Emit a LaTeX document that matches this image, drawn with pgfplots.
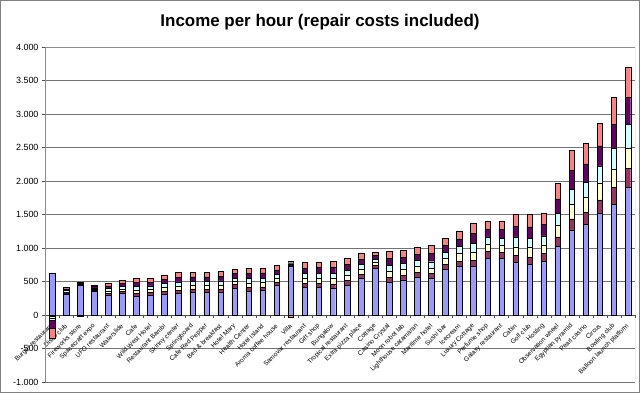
\documentclass[border=0pt]{standalone}
\usepackage{pgfplots}
\pgfplotsset{compat=1.18}
\usepackage{pgfplotstable}
\usepackage{fontspec}
\setmainfont{Liberation Sans}
\definecolor{sB}{HTML}{9999FF}
\definecolor{sM}{HTML}{993366}
\definecolor{sY}{HTML}{FFFFCC}
\definecolor{sC}{HTML}{CCFFFF}
\definecolor{sP}{HTML}{660066}
\definecolor{sS}{HTML}{FF8080}

\pgfplotstableread{
k b m y c p s
0 630 0 0 0 0 0
1 315 15 17 20 25 25
2 441 8 8 10 18 0
3 353 12 15 18 25 28
4 300 28 33 35 40 40
5 319 32 38 40 44 47
6 275 44 52 55 60 64
7 294 41 49 51 56 59
8 309 46 55 58 64 66
9 324 49 59 62 68 70
10 343 47 56 59 65 68
11 343 45 58 60 63 69
12 333 51 61 64 70 73
13 402 50 50 50 65 60
14 352 56 66 70 77 79
15 365 54 65 68 75 78
16 437 49 59 62 68 70
17 735 15 15 15 25 0
18 417 59 70 73 81 84
19 417 60 72 75 83 87
20 402 64 77 81 89 92
21 447 65 77 81 90 94
22 551 59 70 73 81 84
23 700 39 46 49 53 56
24 492 73 87 91 100 105
25 526 70 83 87 96 101
26 566 72 85 89 98 103
27 545 75 80 95 120 120
28 685 75 80 100 100 105
29 730 70 115 110 110 120
30 730 90 120 125 155 155
31 850 95 105 115 120 115
32 840 95 100 110 130 130
33 790 100 125 150 160 175
34 755 110 140 140 170 185
35 805 110 130 135 170 175
36 1025 140 175 180 215 225
37 1270 165 220 225 275 300
38 1355 180 220 230 270 305
39 1525 195 240 265 300 330
40 1655 245 275 315 350 410
41 1910 275 305 350 410 450
}\postab

\pgfplotstableread{
k m y c p s
0 -20 -25 -35 -120 -140
2 0 0 0 0 -15
17 0 0 0 0 -30
}\negtab

\pgfplotsset{
  common/.style={
    at={(45bp,11bp)}, anchor=south west,
    scale only axis, width=590bp, height=335bp,
    xmin=-0.5, xmax=41.5, ymin=-1000, ymax=4000,
    ybar stacked, bar width=5.5bp,
  },
  segs/.style={draw=black, line width=0.45bp},
}

\begin{document}
\begin{tikzpicture}
\useasboundingbox (0,0) rectangle (640bp,393bp);
\draw[black!50, line width=0.8bp] (0.5bp,0.5bp) rectangle (639.5bp,392.5bp);
\node[font=\bfseries\fontsize{17}{20}\selectfont] at (320bp,371bp) {Income per hour (repair costs included)};

\begin{axis}[common,
  axis x line=middle, axis y line=left,
  axis line style={-, black!70},
  every inner x axis line/.append style={-},
  every outer y axis line/.append style={-},
  ytick={-1000,-500,...,4000},
  yticklabels={-1.000,-500,0,500,1.000,1.500,2.000,2.500,3.000,3.500,4.000},
  yticklabel style={font=\fontsize{9}{10}\selectfont},
  ymajorgrids, major grid style={black!55, line width=0.5bp},
  xtick={0,...,41},
  xticklabels={Burger restaurant, Disco club, Fireworks store, Spacecraft expo, UFO restaurant, Waterslide, Cafe, Wild West Hotel, Restaurant Bambi, Skinny center, Springboard, Cafe Red Pepper, Bed \& breakfast, Hotel Mary, Health Center, Hotel Island, Aroma coffee house, Villa, Samovar restaurant, Gift shop, Bungalow, Tropical restaurant, Extra pizza place, Cottage, Casino Crystal, Moon robot lab, Lighthouse catamaran, Maritime hotel, Sushi bar, Icecream, Luxury Cottage, Perfume shop, Galaxy restaurant, Cabin, Golf club, Hosting, Observation wheel, Egyptian pyramid, Pearl casino, Circus, Bowling club, Balloon launch platform},
  xticklabel style={font=\fontsize{6.5}{7}\selectfont, inner sep=0pt, yshift=-7bp, rotate=45, anchor=east},
  minor xtick={-0.5,0.5,...,41.5},
  tick align=outside,
  major tick length=3bp, minor tick length=3bp,
  major x tick style={draw=none},
  tick style={black!70},
]
\addplot[segs, fill=sB] table[x=k,y=b]{\postab};
\addplot[segs, fill=sM] table[x=k,y=m]{\postab};
\addplot[segs, fill=sY] table[x=k,y=y]{\postab};
\addplot[segs, fill=sC] table[x=k,y=c]{\postab};
\addplot[segs, fill=sP] table[x=k,y=p]{\postab};
\addplot[segs, fill=sS] table[x=k,y=s]{\postab};
\draw[black!45] (rel axis cs:0,0) rectangle (rel axis cs:1,1);
\end{axis}

\begin{axis}[common, hide axis]
\addplot[segs, fill=sM] table[x=k,y=m]{\negtab};
\addplot[segs, fill=sY] table[x=k,y=y]{\negtab};
\addplot[segs, fill=sC] table[x=k,y=c]{\negtab};
\addplot[segs, fill=sP] table[x=k,y=p]{\negtab};
\addplot[segs, fill=sS] table[x=k,y=s]{\negtab};
\end{axis}
\end{tikzpicture}
\end{document}
